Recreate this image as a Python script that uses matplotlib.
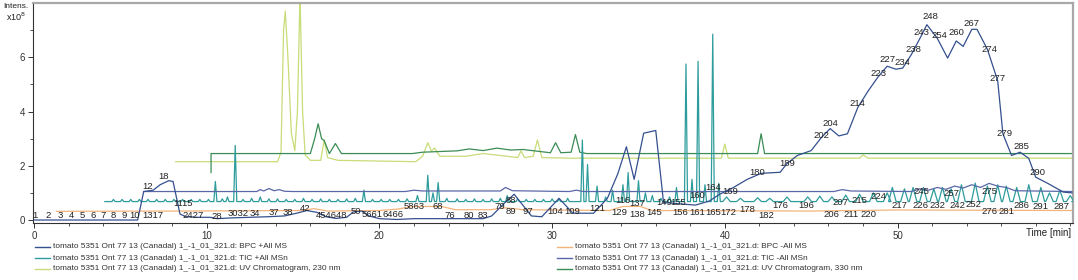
import matplotlib
matplotlib.use("Agg")
import matplotlib.pyplot as plt
from matplotlib.lines import Line2D
import numpy as np

plt.rcParams["font.family"] = ["Liberation Sans", "DejaVu Sans"]

NAVY = "#34508f"
ORANGE = "#f3b47c"
TEAL = "#2e9c9c"
SLATE = "#5a68a8"
YELLOW = "#c8dc78"
GREEN = "#3b8c55"
INK = "#222222"

PREFIX = "tomato 5351 Ont 77 13 (Canadal) 1_-1_01_321.d: "

# BPC +All MS (offset 0)
bpc_pos_t = [0, 6.0, 6.35, 6.9, 7.3, 7.8, 8.05, 8.45, 8.8, 9.5, 10.2, 10.6, 11.5, 12.5, 13.5,
             14.5, 15.2, 15.8, 16.4, 16.9, 17.5, 18.1, 18.5, 19.0, 19.4, 20.0, 21.0, 22.0, 24.0,
             26.0, 26.5, 27.2, 27.8, 28.8, 29.4, 30.4, 31.2, 32.4, 33.2, 33.8, 34.3, 34.75,
             35.3, 36.0, 36.45, 37.3, 38.3, 39.1, 39.7, 40.5, 41.3, 42.1, 43.2, 43.6, 44.2,
             45.0, 45.6, 46.1, 46.6, 47.1, 47.7, 48.3, 48.9, 49.4, 49.9, 50.3, 50.8, 51.3,
             51.7, 52.3, 52.9, 53.4, 53.8, 54.3, 54.6, 55.2, 55.8, 56.1, 56.6, 57.1, 57.6,
             58.0, 58.7, 59.6, 60.1]
bpc_pos_y = [0.0, 0.0, 1.05, 1.1, 1.3, 1.45, 1.42, 0.22, 0.12, 0.1, 0.1, 0.05, 0.08, 0.1, 0.12,
             0.15, 0.25, 0.35, 0.28, 0.12, 0.06, 0.1, 0.3, 0.33, 0.15, 0.05, 0.02, 0.05, 0.05,
             0.05, 0.15, 0.6, 0.95, 0.15, 0.12, 0.8, 0.25, 0.25, 0.8, 1.7, 2.7, 1.5,
             3.2, 3.3, 0.65, 0.6, 0.55, 0.7, 0.95, 1.2, 1.5, 1.72, 1.76, 2.08, 2.38,
             2.56, 3.05, 3.37, 3.1, 3.18, 4.15, 4.76, 5.3, 5.67, 5.56, 5.6, 6.1, 6.7,
             7.2, 6.7, 5.97, 6.6, 6.4, 7.03, 7.03, 6.3, 5.13, 3.18, 2.38, 2.5, 2.27,
             1.58, 1.35, 1.03, 1.0]

# BPC -All MS (offset 2.05 min)
bpc_neg_t = [1.3, 8.0, 15.5, 16.2, 17.0, 20.0, 21.0, 22.0, 23.6, 24.4, 26.4, 27.3, 28.3,
             33.3, 34.1, 35.1, 35.8, 45.0, 50.0, 60.1]
bpc_neg_y = [0.32, 0.33, 0.35, 0.42, 0.33, 0.35, 0.4, 0.5, 0.5, 0.38, 0.38, 0.45, 0.38,
             0.35, 0.5, 0.5, 0.35, 0.33, 0.37, 0.35]

# TIC +All MSn (offset 4.1 min): baseline plus spike apexes
tic_pos_base = 0.68
tic_pos_rt = [4.6, 5.1, 5.6, 6.1, 6.6, 7.1, 7.6, 8.1, 8.6, 9.1, 9.6, 10.1, 10.5, 10.9, 11.2,
              11.65, 12.1, 12.6, 13.1, 13.6, 14.1, 14.6, 15.1, 15.6, 16.1, 16.6, 17.1, 17.6,
              18.1, 18.6, 19.1, 19.6, 20.1, 20.6, 21.1, 21.6, 22.2, 22.8, 23.1, 23.4, 23.9,
              24.5, 25.0, 25.5, 26.0, 26.5, 27.0, 27.4, 28.0, 28.5, 29.0, 29.5, 30.0, 30.4,
              30.9, 31.75, 32.05, 32.6, 33.1, 33.5, 34.1, 34.4, 35.0, 35.4, 35.8, 36.3,
              36.8, 37.2, 37.75, 38.1, 38.45, 38.85, 39.3, 39.65, 40.1, 40.9, 41.9, 42.6,
              43.6, 44.8, 45.5, 46.2, 47.0, 47.8, 48.6, 49.4, 49.7, 50.4, 50.9, 51.5, 52.1,
              52.6, 53.1, 53.7, 54.5, 55.2, 55.8, 56.3, 56.9, 57.6, 58.3, 58.8, 59.4, 60.0]
tic_pos_h = [0.76, 0.76, 0.76, 0.76, 0.76, 0.76, 0.76, 0.76, 0.76, 0.76, 0.76, 0.76, 1.42, 0.78,
             0.85, 2.75, 0.76, 0.8, 0.85, 0.78, 0.78, 0.76, 0.76, 0.8, 0.76, 0.78, 0.76, 0.76,
             0.78, 0.8, 1.1, 0.76, 0.76, 0.76, 0.76, 0.78, 0.9, 1.65, 1.0, 1.38, 0.8,
             0.78, 0.76, 0.78, 0.76, 0.78, 0.8, 0.9, 0.78, 0.76, 0.76, 0.76, 0.78, 0.78,
             0.8, 2.95, 2.05, 1.25, 0.85, 1.1, 1.3, 1.75, 1.45, 1.0, 0.9, 0.8,
             0.85, 1.2, 5.75, 1.5, 5.85, 1.3, 6.85, 1.35, 0.85, 0.8, 0.82, 0.8,
             0.85, 0.85, 0.88, 0.85, 0.92, 0.95, 1.0, 1.0, 1.2, 1.15, 1.2, 1.2, 1.15,
             1.2, 1.15, 1.3, 1.36, 1.25, 1.3, 1.25, 1.2, 1.3, 1.2, 1.0, 1.1, 0.9]

# TIC -All MSn (offset 6.15 min)
tic_neg_t = [6.35, 12.9, 13.1, 13.3, 13.6, 13.9, 14.2, 14.5, 15.0, 21.5, 22.0, 22.5, 27.0,
             27.3, 27.7, 31.0, 31.4, 31.8, 46.3, 46.8, 47.3, 50.8, 51.3, 51.8, 52.3, 52.8,
             53.3, 53.8, 54.3, 54.8, 55.3, 55.8, 56.3, 56.8, 60.1]
tic_neg_y = [1.05, 1.05, 1.12, 1.07, 1.16, 1.08, 1.12, 1.06, 1.05, 1.05, 1.1, 1.07, 1.07,
             1.2, 1.08, 1.05, 1.1, 1.05, 1.05, 1.12, 1.07, 1.05, 1.15, 1.1, 1.2, 1.13,
             1.25, 1.18, 1.3, 1.2, 1.35, 1.25, 1.2, 1.08, 1.05]

# UV 230 nm (offset 8.2 min)
uv230_t = [8.2, 14.1, 14.3, 14.45, 14.55, 14.7, 14.9, 15.1, 15.25, 15.4, 15.55, 15.7, 16.0,
           16.6, 16.8, 17.0, 17.6, 22.1, 22.5, 22.8, 23.0, 23.2, 23.5, 25.0, 26.0, 27.4,
           28.0, 28.2, 28.4, 28.9, 29.15, 29.4, 31.0, 39.8, 40.0, 40.2, 47.8, 48.0, 48.3,
           60.1]
uv230_y = [2.15, 2.15, 2.5, 7.0, 7.7, 6.0, 3.2, 2.55, 4.0, 8.3, 4.0, 2.4, 2.2,
           2.2, 2.95, 2.3, 2.2, 2.15, 2.35, 2.85, 2.55, 2.65, 2.35, 2.35, 2.45, 2.35,
           2.3, 2.55, 2.3, 2.35, 2.95, 2.3, 2.28, 2.28, 2.8, 2.28, 2.28, 2.4, 2.28,
           2.28]

# UV 330 nm (offset 10.25 min)
uv330_t = [10.25, 10.25, 16.0, 16.25, 16.45, 16.65, 16.8, 17.1, 17.45, 17.8, 21.9, 22.5,
           24.5, 25.2, 26.0, 26.8, 27.6, 28.3, 29.9, 30.2, 30.5, 31.1, 31.35, 31.6, 32.0,
           41.9, 42.1, 42.3, 60.1]
uv330_y = [1.75, 2.45, 2.45, 3.0, 3.55, 3.0, 2.93, 2.45, 2.82, 2.45, 2.45, 2.5,
           2.55, 2.62, 2.56, 2.65, 2.58, 2.6, 2.48, 2.85, 2.48, 2.5, 3.15, 2.5, 2.45,
           2.45, 3.18, 2.45, 2.45]

# compound numbers: (rt, intensity, text)
peak_labels = [
    (0.05, 0.18, "1"), (0.8, 0.18, "2"), (1.5, 0.18, "3"), (2.15, 0.18, "4"),
    (2.8, 0.18, "5"), (3.4, 0.18, "6"), (4.0, 0.18, "7"), (4.6, 0.18, "8"),
    (5.2, 0.18, "9"), (5.8, 0.18, "10"), (6.9, 0.18, "1317"), (6.6, 1.25, "12"),
    (7.5, 1.6, "18"), (8.6, 0.6, "1115"), (9.2, 0.15, "2427"), (10.6, 0.12, "28"),
    (11.8, 0.25, "3032"), (12.8, 0.25, "34"), (13.9, 0.29, "37"), (14.7, 0.29, "38"),
    (15.7, 0.42, "42"), (17.2, 0.18, "454648"), (18.65, 0.3, "50"), (19.6, 0.22, "5661"),
    (20.8, 0.22, "6466"), (22.0, 0.5, "5863"), (23.4, 0.5, "68"), (24.1, 0.18, "76"),
    (25.2, 0.18, "80"), (26.0, 0.18, "83"), (27.0, 0.5, "79"), (27.6, 0.73, "88"),
    (27.6, 0.33, "89"), (28.6, 0.33, "97"), (30.15, 0.33, "104"), (31.15, 0.33, "109"),
    (32.6, 0.44, "121"), (34.1, 0.73, "116"), (34.9, 0.62, "137"), (33.9, 0.26, "129"),
    (34.9, 0.22, "138"), (35.9, 0.26, "145"), (36.5, 0.66, "149"), (37.3, 0.66, "155"),
    (37.4, 0.26, "156"), (38.4, 0.26, "161"), (38.4, 0.92, "160"), (39.3, 1.2, "164"),
    (39.3, 0.26, "165"), (40.2, 0.26, "172"), (40.3, 1.05, "169"), (41.3, 0.4, "178"),
    (42.4, 0.16, "182"), (43.2, 0.55, "176"), (44.7, 0.55, "196"), (46.2, 0.22, "206"),
    (47.3, 0.22, "211"), (48.3, 0.22, "220"), (46.7, 0.66, "207"), (47.8, 0.73, "215"),
    (48.9, 0.88, "224"), (41.9, 1.75, "180"), (43.6, 2.1, "189"), (45.6, 3.1, "202"),
    (46.1, 3.55, "204"), (47.7, 4.3, "214"), (48.9, 5.4, "223"), (49.4, 5.9, "227"),
    (50.3, 5.8, "234"), (50.9, 6.3, "238"), (51.4, 6.9, "243"), (51.9, 7.5, "248"),
    (52.4, 6.8, "254"), (53.4, 6.9, "260"), (54.3, 7.25, "267"), (55.3, 6.3, "274"),
    (55.8, 5.2, "277"), (56.2, 3.2, "279"), (57.2, 2.7, "285"), (58.1, 1.76, "290"),
    (51.4, 1.06, "245"), (53.1, 0.99, "257"), (55.3, 1.06, "275"), (50.1, 0.55, "217"),
    (51.3, 0.55, "226"), (52.3, 0.55, "232"), (53.5, 0.55, "242"), (54.4, 0.58, "252"),
    (55.3, 0.33, "276"), (56.3, 0.33, "281"), (57.2, 0.55, "286"), (58.3, 0.48, "291"),
    (59.5, 0.51, "287"),
]


def spike_line(start, end, base, rts, heights, narrow=0.09, wide=0.22):
    """Baseline with triangular spikes at the given apexes."""
    xs, ys = [start], [base]
    for rt, h in zip(rts, heights):
        w = narrow if rt < 40 else wide
        xs += [rt - w, rt, rt + w]
        ys += [base, h, base]
    xs.append(end)
    ys.append(base)
    return xs, ys


fig = plt.figure(figsize=(10.78, 2.80), dpi=100)
ax = fig.add_axes([33 / 1078, 1 - 223 / 280, 1040 / 1078, 220 / 280])

lw = 0.9
ax.plot(bpc_neg_t, bpc_neg_y, color=ORANGE, lw=lw, zorder=2)
tx, ty = spike_line(4.1, 60.1, tic_pos_base, tic_pos_rt, tic_pos_h)
ax.plot(tx, ty, color=TEAL, lw=lw, zorder=3)
ax.plot(tic_neg_t, tic_neg_y, color=SLATE, lw=lw, zorder=3)
ax.plot(uv230_t, uv230_y, color=YELLOW, lw=lw, zorder=2)
ax.plot(uv330_t, uv330_y, color=GREEN, lw=lw, zorder=2)
ax.plot(bpc_pos_t, bpc_pos_y, color=NAVY, lw=lw, zorder=4)

for rt, y, txt in peak_labels:
    ax.text(rt, y, txt, fontsize=6.8, color=INK, ha="center", va="center", zorder=5)

ax.set_xlim(-0.06, 60.16)
ax.set_ylim(-0.11, 8.0)
ax.set_xticks([0, 10, 20, 30, 40, 50])
ax.set_xticks(np.arange(0, 61, 2), minor=True)
ax.set_yticks([0, 2, 4, 6])
ax.set_yticks([1, 3, 5, 7], minor=True)
ax.tick_params(axis="both", which="major", labelsize=7, colors="#333333",
               length=3.5, width=0.7, pad=2)
ax.tick_params(axis="both", which="minor", length=2, width=0.6, colors="#333333")
for side in ("left", "bottom"):
    ax.spines[side].set_color("#333333")
    ax.spines[side].set_linewidth(0.8)
for side in ("top", "right"):
    ax.spines[side].set_color("#a8a8a8")
    ax.spines[side].set_linewidth(1.6)

fig.text(3 / 1078, 1 - 6 / 280, "Intens.", fontsize=6, color=INK, va="center")
fig.text(6 / 1078, 1 - 17 / 280, r"x10$^8$", fontsize=6.5, color=INK, va="center")
fig.text(1071 / 1078, 1 - 233 / 280, "Time [min]", fontsize=7, color=INK,
         ha="right", va="center")

legend_items = [
    (35, 247, NAVY, "BPC +All MS"),
    (35, 258, TEAL, "TIC +All MSn"),
    (35, 269, YELLOW, "UV Chromatogram, 230 nm"),
    (557, 247, ORANGE, "BPC -All MS"),
    (557, 258, SLATE, "TIC -All MSn"),
    (557, 269, GREEN, "UV Chromatogram, 330 nm"),
]
for px, py, col, name in legend_items:
    yf = 1 - py / 280
    fig.add_artist(Line2D([px / 1078, (px + 15) / 1078], [yf, yf], color=col, lw=1.0,
                          transform=fig.transFigure))
    fig.text((px + 18) / 1078, yf, PREFIX + name, fontsize=5.95, color="#333333",
             va="center")

fig.savefig("out.png", dpi=100)
